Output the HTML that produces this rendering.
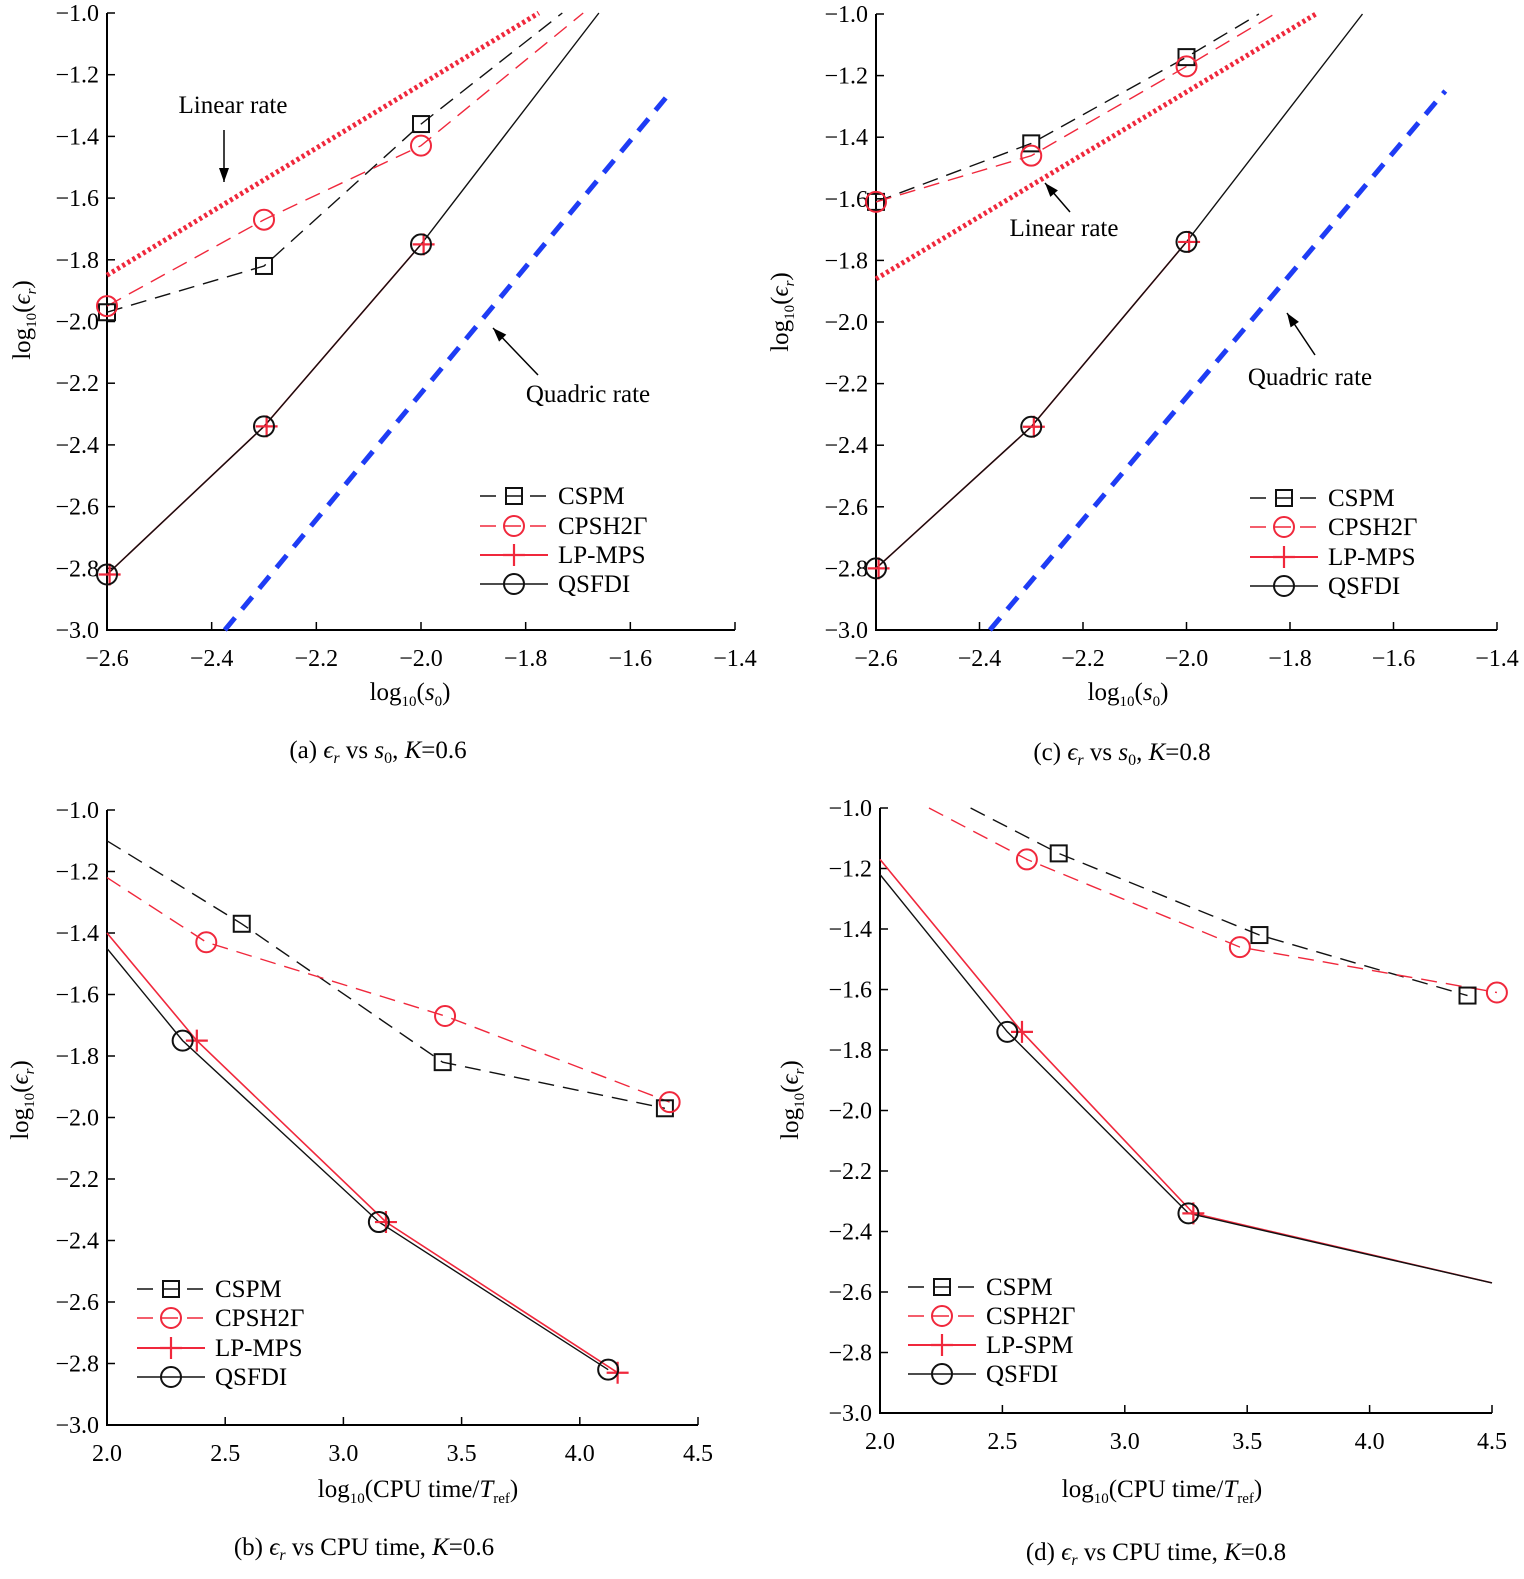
<!DOCTYPE html>
<html><head><meta charset="utf-8">
<style>
html,body{margin:0;padding:0;background:#fff;}
svg{display:block;font-family:"Liberation Serif",serif;}
</style></head>
<body>
<svg id="c" width="1524" height="1579" viewBox="0 0 1524 1579" xmlns="http://www.w3.org/2000/svg"></svg>
<script>
// ---------- data ----------
// panel a : s0, K=0.6
const aX = [-2.6, -2.3, -2.0];
const aCSPM = [-1.97, -1.82, -1.36];
const aCPSH = [-1.95, -1.67, -1.43];
const aLP = [-2.82, -2.34, -1.75];
const aQS = [-2.82, -2.34, -1.75];
const aCSPMext = [-1.73, -1.0];
const aCPSHext = [-1.69, -1.0];
const aQSext = [-1.66, -1.0];
const aLinear = [[-2.6, -1.85], [-1.775, -1.0]];
const aQuad = [[-2.375, -3.0], [-1.52, -1.25]];
// panel c : s0, K=0.8
const cX = [-2.6, -2.3, -2.0];
const cCSPM = [-1.61, -1.42, -1.14];
const cCPSH = [-1.61, -1.46, -1.17];
const cLP = [-2.8, -2.34, -1.74];
const cQS = [-2.8, -2.34, -1.74];
const cCSPMext = [-1.86, -1.0];
const cCPSHext = [-1.83, -1.0];
const cQSext = [-1.66, -1.0];
const cLinear = [[-2.6, -1.86], [-1.75, -1.0]];
const cQuad = [[-2.38, -3.0], [-1.5, -1.25]];
// panel b : CPU, K=0.6
const bCSPMx = [2.0, 2.57, 3.42, 4.36];
const bCSPMy = [-1.1, -1.37, -1.82, -1.97];
const bCPSHx = [2.0, 2.42, 3.43, 4.38];
const bCPSHy = [-1.22, -1.43, -1.67, -1.95];
const bLPx = [2.0, 2.38, 3.18, 4.16];
const bLPy = [-1.40, -1.75, -2.34, -2.83];
const bQSx = [2.0, 2.32, 3.15, 4.12];
const bQSy = [-1.45, -1.75, -2.34, -2.82];
// panel d : CPU, K=0.8
const dCSPMx = [2.37, 2.73, 3.55, 4.40];
const dCSPMy = [-1.0, -1.15, -1.42, -1.62];
const dCPSHx = [2.2, 2.6, 3.47, 4.52];
const dCPSHy = [-1.0, -1.17, -1.46, -1.61];
const dLPx = [2.0, 2.58, 3.28, 4.5];
const dLPy = [-1.17, -1.74, -2.34, -2.57];
const dQSx = [2.0, 2.52, 3.26, 4.5];
const dQSy = [-1.22, -1.74, -2.34, -2.57];

const yTicks = [-1.0, -1.2, -1.4, -1.6, -1.8, -2.0, -2.2, -2.4, -2.6, -2.8, -3.0];
const sTicks = [-2.6, -2.4, -2.2, -2.0, -1.8, -1.6, -1.4];
const cpuTicks = [2.0, 2.5, 3.0, 3.5, 4.0, 4.5];

const NS = "http://www.w3.org/2000/svg";
const svg = document.getElementById('c');
function mk(tag, attrs, parent) {
  const e = document.createElementNS(NS, tag);
  for (const k in attrs) e.setAttribute(k, attrs[k]);
  (parent || svg).appendChild(e);
  return e;
}
const RED = "#f0283c", BLK = "#111", BLUE = "#1e3cf5";

function panel(name, px0, px1, xmin, xmax, py0, py1, xticks, xfmt) {
  const g = mk('g', {});
  
  
  const sx = v => px0 + (v - xmin) / (xmax - xmin) * (px1 - px0);
  const sy = v => py0 + (v - (-1.0)) / (-3.0 - (-1.0)) * (py1 - py0);
  const ax = mk('path', {d: `M${px0} ${py0}V${py1}H${px1}`, fill: 'none', stroke: '#000', 'stroke-width': 2}, g);
  
  
  yTicks.forEach(t => {
    const y = sy(t);
    mk('line', {x1: px0, x2: px0 + 8, y1: y, y2: y, stroke: '#000', 'stroke-width': 1.5}, g);
    const tx = mk('text', {x: px0 - 8, y: y + 8, 'text-anchor': 'end', 'font-size': 24}, g);
    tx.textContent = '\u2212' + Math.abs(t).toFixed(1);
    
    
  });
  xticks.forEach(t => {
    const x = sx(t);
    mk('line', {x1: x, x2: x, y1: py1, y2: py1 - 8, stroke: '#000', 'stroke-width': 1.5}, g);
    const tx = mk('text', {x: x, y: py1 + 36, 'text-anchor': 'middle', 'font-size': 24}, g);
    tx.textContent = xfmt(t);
    
    
  });
  return {g, sx, sy};
}
function line(P, xs, ys, color, dash, w, name) {
  const d = xs.map((x, i) => (i ? 'L' : 'M') + P.sx(x).toFixed(1) + ' ' + P.sy(ys[i]).toFixed(1)).join('');
  const p = mk('path', {d, fill: 'none', stroke: color, 'stroke-width': w || 1.4, 'stroke-dasharray': dash || 'none'}, P.g);
  
  
}
function marker(P, type, cx, cy, name) {
  drawMarker(P.g, type, P.sx(cx), P.sy(cy), name);
}
function drawMarker(g, type, x, y, name) {
  let e;
  if (type === 'sq') e = mk('rect', {x: x - 8, y: y - 8, width: 16, height: 16, fill: 'none', stroke: BLK, 'stroke-width': 2}, g);
  else if (type === 'oc') e = mk('circle', {cx: x, cy: y, r: 10, fill: 'none', stroke: RED, 'stroke-width': 2}, g);
  else if (type === 'ob') e = mk('circle', {cx: x, cy: y, r: 10, fill: 'none', stroke: BLK, 'stroke-width': 2}, g);
  else e = mk('path', {d: `M${x - 11} ${y}H${x + 11}M${x} ${y - 11}V${y + 11}`, stroke: RED, 'stroke-width': 2.2}, g);
  
  
}
function legend(x0, rows, labels) {
  const g = mk('g', {});
  
  
  const styles = [[BLK, '16 9', 'sq'], [RED, '16 9', 'oc'], [RED, 'none', 'pl'], [BLK, 'none', 'ob']];
  rows.forEach((y, i) => {
    const [c, d, t] = styles[i];
    mk('line', {x1: x0, x2: x0 + 68, y1: y, y2: y, stroke: c, 'stroke-width': i === 2 ? 2 : 1.4, 'stroke-dasharray': d}, g);
    drawMarker(g, t, x0 + 34, y, 'legend-marker');
    const tx = mk('text', {x: x0 + 78, y: y + 8, 'font-size': 25}, g);
    tx.textContent = labels[i];
    
    
  });
}
function text(x, y, s, size, name, anchor, rot) {
  const t = mk('text', {x, y, 'font-size': size, 'text-anchor': anchor || 'middle'});
  if (rot) t.setAttribute('transform', `rotate(-90 ${x} ${y})`);
  t.innerHTML = s;
  
  
  return t;
}
function arrow(x1, y1, x2, y2, name) {
  const g = mk('g', {});
  
  
  mk('line', {x1, y1, x2, y2, stroke: '#000', 'stroke-width': 1.5}, g);
  const a = Math.atan2(y2 - y1, x2 - x1), L = 14, W = 5;
  const bx = x2 - L * Math.cos(a), by = y2 - L * Math.sin(a);
  mk('path', {d: `M${x2} ${y2}L${bx - W * Math.sin(a)} ${by + W * Math.cos(a)}L${bx + W * Math.sin(a)} ${by - W * Math.cos(a)}Z`, fill: '#000'}, g);
}
const f1 = t => (t < 0 ? '\u2212' : '') + Math.abs(t).toFixed(1);

function sPanel(P, X, cs, cp, lp, qs, cse, cpe, qse, lin, quad) {
  line(P, lin.map(p => p[0]), lin.map(p => p[1]), RED, '3 3', 5, 'linear-rate-line');
  line(P, quad.map(p => p[0]), quad.map(p => p[1]), BLUE, '16 11', 5, 'quadric-rate-line');
  line(P, X.concat([cse[0]]), cs.concat([cse[1]]), BLK, '16 9', 1.4, 'cspm-line');
  line(P, X.concat([cpe[0]]), cp.concat([cpe[1]]), RED, '16 9', 1.4, 'cpsh-line');
  line(P, X, lp, RED, 'none', 1.6, 'lpmps-line');
  line(P, X.concat([qse[0]]), qs.concat([qse[1]]), BLK, 'none', 1.4, 'qsfdi-line');
  X.forEach((x, i) => {
    marker(P, 'sq', x, cs[i], 'cspm-point');
    marker(P, 'oc', x, cp[i], 'cpsh-point');
    marker(P, 'pl', x + 0.005, lp[i], 'lpmps-point');
    marker(P, 'ob', x, qs[i], 'qsfdi-point');
  });
}
function cPanel(P, csx, csy, cpx, cpy, lpx, lpy, qsx, qsy) {
  line(P, csx, csy, BLK, '16 9', 1.4, 'cspm-line');
  line(P, cpx, cpy, RED, '16 9', 1.4, 'cpsh-line');
  line(P, lpx, lpy, RED, 'none', 1.6, 'lpmps-line');
  line(P, qsx, qsy, BLK, 'none', 1.4, 'qsfdi-line');
  for (let i = 1; i < csx.length; i++) marker(P, 'sq', csx[i], csy[i], 'cspm-point');
  for (let i = 1; i < cpx.length; i++) marker(P, 'oc', cpx[i], cpy[i], 'cpsh-point');
  for (let i = 1; i < 4; i++) if (lpx[i] < 4.45) marker(P, 'pl', lpx[i], lpy[i], 'lpmps-point');
  for (let i = 1; i < 4; i++) if (qsx[i] < 4.45) marker(P, 'ob', qsx[i], qsy[i], 'qsfdi-point');
}

const PA = panel('panel-a', 107, 735, -2.6, -1.4, 13, 630, sTicks, f1);
sPanel(PA, aX, aCSPM, aCPSH, aLP, aQS, aCSPMext, aCPSHext, aQSext, aLinear, aQuad);
const PC = panel('panel-c', 876, 1497, -2.6, -1.4, 14, 630, sTicks, f1);
sPanel(PC, cX, cCSPM, cCPSH, cLP, cQS, cCSPMext, cCPSHext, cQSext, cLinear, cQuad);
const PB = panel('panel-b', 107, 698, 2.0, 4.5, 810, 1425, cpuTicks, t => t.toFixed(1));
cPanel(PB, bCSPMx, bCSPMy, bCPSHx, bCPSHy, bLPx, bLPy, bQSx, bQSy);
const PD = panel('panel-d', 880, 1492, 2.0, 4.5, 808, 1413, cpuTicks, t => t.toFixed(1));
cPanel(PD, dCSPMx, dCSPMy, dCPSHx, dCPSHy, dLPx, dLPy, dQSx, dQSy);

legend(480, [496, 526, 555, 584], ['CSPM', 'CPSH2\u0393', 'LP-MPS', 'QSFDI']);
legend(1250, [498, 527, 557, 586], ['CSPM', 'CPSH2\u0393', 'LP-MPS', 'QSFDI']);
legend(137, [1289, 1318, 1348, 1377], ['CSPM', 'CPSH2\u0393', 'LP-MPS', 'QSFDI']);
legend(908, [1287, 1316, 1345, 1374], ['CSPM', 'CSPH2\u0393', 'LP-SPM', 'QSFDI']);

text(233, 113, 'Linear rate', 25, 'linear-rate-label');
arrow(224, 130, 224, 182, 'linear-rate-arrow');
text(588, 402, 'Quadric rate', 25, 'quadric-rate-label');
arrow(538, 375, 493, 328, 'quadric-rate-arrow');
text(1064, 236, 'Linear rate', 25, 'linear-rate-label');
arrow(1070, 212, 1045, 183, 'linear-rate-arrow');
text(1310, 385, 'Quadric rate', 25, 'quadric-rate-label');
arrow(1315, 355, 1287, 313, 'quadric-rate-arrow');

const ylab = 'log<tspan font-size="15" dy="6">10</tspan><tspan dy="-6">(</tspan><tspan font-style="italic">\u03f5</tspan><tspan font-size="15" font-style="italic" dy="6">r</tspan><tspan dy="-6">)</tspan>';
text(30, 320, ylab, 25, 'y-axis-title', 'middle', true);
text(788, 312, ylab, 25, 'y-axis-title', 'middle', true);
text(28, 1100, ylab, 25, 'y-axis-title', 'middle', true);
text(798, 1100, ylab, 25, 'y-axis-title', 'middle', true);
const sLab = 'log<tspan font-size="15" dy="6">10</tspan><tspan dy="-6">(</tspan><tspan font-style="italic">s</tspan><tspan font-size="15" dy="6">0</tspan><tspan dy="-6">)</tspan>';
text(410, 700, sLab, 25, 'x-axis-title');
text(1128, 700, sLab, 25, 'x-axis-title');
const cLab = 'log<tspan font-size="15" dy="6">10</tspan><tspan dy="-6">(CPU time/</tspan><tspan font-style="italic">T</tspan><tspan font-size="15" dy="6">ref</tspan><tspan dy="-6">)</tspan>';
text(418, 1497, cLab, 25, 'x-axis-title');
text(1162, 1497, cLab, 25, 'x-axis-title');

const ep = '<tspan font-style="italic">\u03f5</tspan><tspan font-style="italic" font-size="16" dy="5">r</tspan><tspan dy="-5">';
text(378, 758, '(a) ' + ep + ' vs  </tspan><tspan font-style="italic">s</tspan><tspan font-size="16" dy="5">0</tspan><tspan dy="-5">, </tspan><tspan font-style="italic">K</tspan>=0.6', 25, 'caption-a');
text(1122, 760, '(c) ' + ep + ' vs  </tspan><tspan font-style="italic">s</tspan><tspan font-size="16" dy="5">0</tspan><tspan dy="-5">, </tspan><tspan font-style="italic">K</tspan>=0.8', 25, 'caption-c');
text(364, 1555, '(b) ' + ep + ' vs CPU time, </tspan><tspan font-style="italic">K</tspan>=0.6', 25, 'caption-b');
text(1156, 1560, '(d) ' + ep + ' vs CPU time, </tspan><tspan font-style="italic">K</tspan>=0.8', 25, 'caption-d');
</script>
</body></html>
